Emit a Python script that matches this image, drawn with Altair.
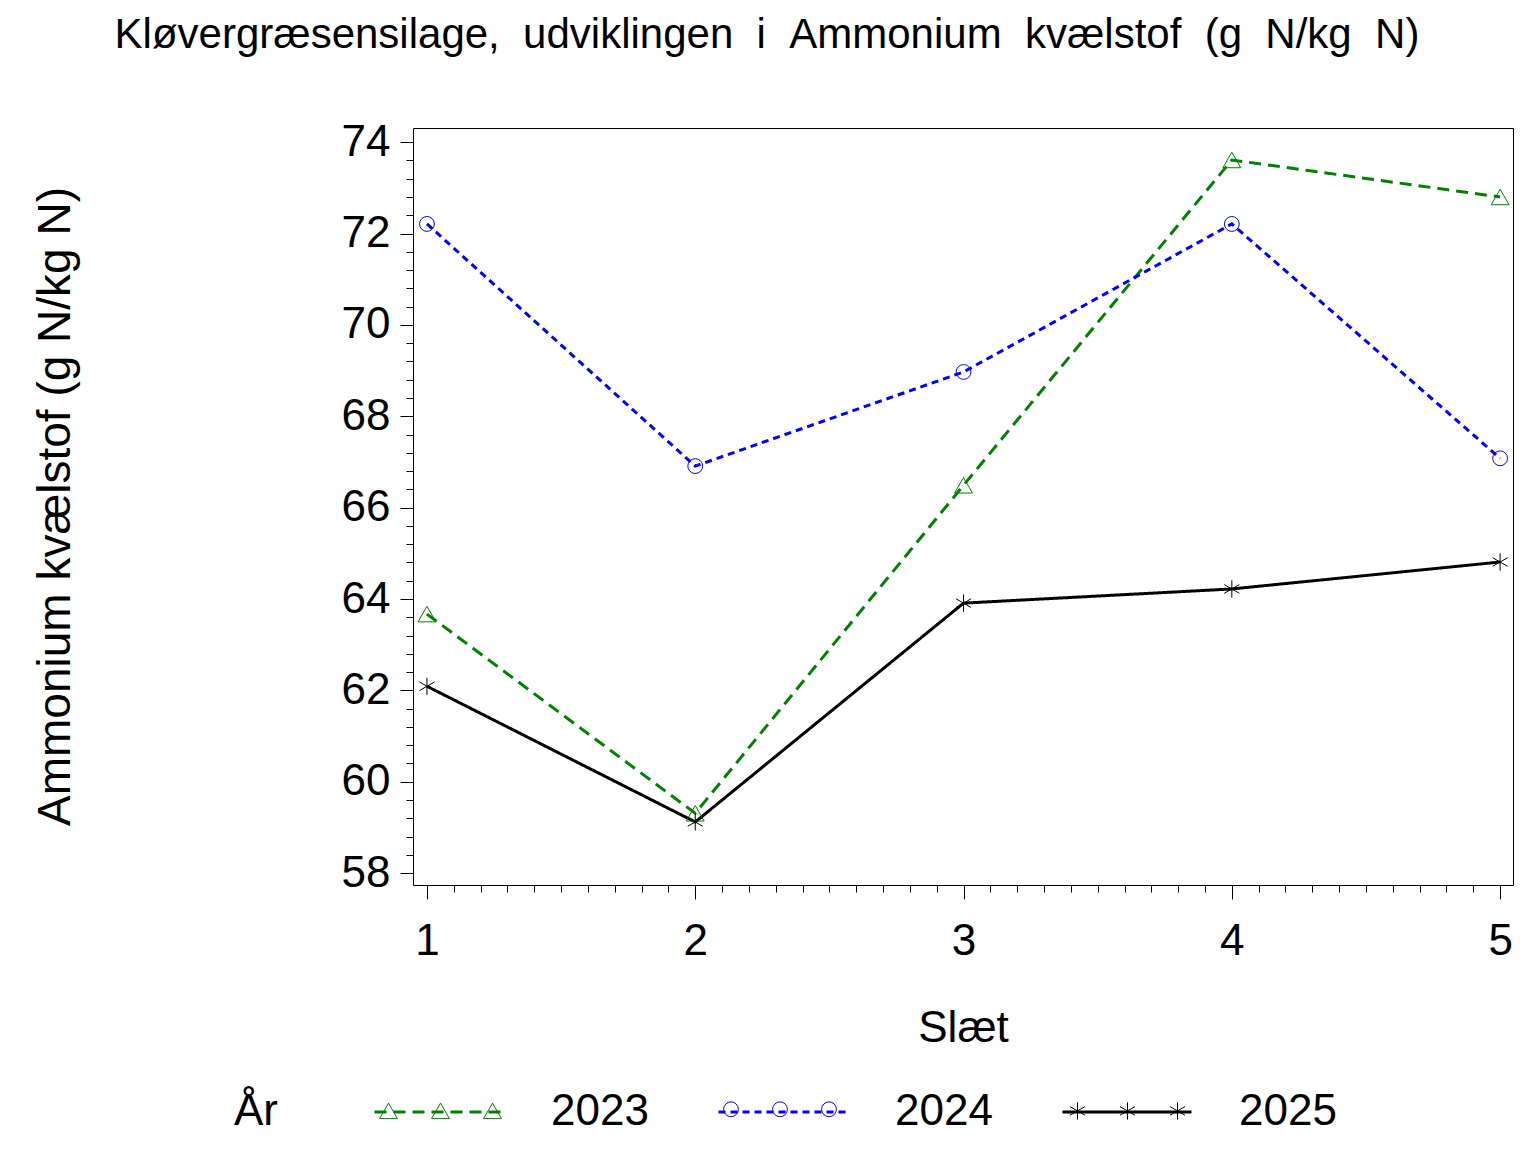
import altair as alt
import pandas as pd

slaet = [1, 2, 3, 4, 5]
years = ["2023", "2024", "2025"]
v2023 = [63.67, 59.31, 66.49, 73.61, 72.80]
v2024 = [72.21, 66.91, 68.97, 72.21, 67.08]
v2025 = [62.09, 59.12, 63.91, 64.22, 64.81]
y_major = [58, 60, 62, 64, 66, 68, 70, 72, 74]
y_minor = [round(58 + 0.4 * i, 1) for i in range(41)]
x_major = [1, 2, 3, 4, 5]
x_minor = [round(1 + 0.1 * i, 1) for i in range(41)]

rows = []
for yr, vals in zip(years, [v2023, v2024, v2025]):
    for s, v in zip(slaet, vals):
        rows.append({"Slaet": s, "Aar": yr, "Value": v})
df = pd.DataFrame(rows)

FONT = "Liberation Sans"
colors = ["#008000", "#0000FF", "#000000"]
dashes = [[12, 7], [7, 5], [1, 0]]
asterisk = "M0,-1L0,1M-0.87,-0.5L0.87,0.5M-0.87,0.5L0.87,-0.5"
shapes = ["triangle-up", "circle", asterisk]
sizes = [320, 220, 300]
marker_x0 = [-34, 310, 655]  # legend marker rows, relative to plot left

xs = alt.Scale(domain=[0.948, 5.048], nice=False, zero=False)
ys = alt.Scale(domain=[57.74, 74.31], nice=False, zero=False)

leg = alt.Legend(
    title="År", orient="none", legendX=-179, legendY=918, direction="horizontal",
    columns=3, titleOrient="left", titleFontSize=44, titleFont=FONT,
    titleFontWeight="normal", titlePadding=95, titleBaseline="top", titleAnchor="middle",
    labelFontSize=44, labelFont=FONT, labelOffset=46, columnPadding=63,
    symbolType="stroke", symbolSize=16641, symbolStrokeWidth=3,
    labelColor="black", titleColor="black",
)

base = alt.Chart(df)

lines = base.mark_line(strokeWidth=3).encode(
    x=alt.X("Slaet:Q", scale=xs, axis=alt.Axis(
        values=x_major, title="Slæt", tickSize=14, labelFontSize=44, labelFont=FONT,
        labelPadding=20, domain=False, grid=False, titleFontSize=44, titleFont=FONT,
        titleFontWeight="normal", titleX=550, titleY=143, titleBaseline="middle",
        tickColor="black", labelColor="black", titleColor="black", labelFlush=False)),
    y=alt.Y("Value:Q", scale=ys, axis=alt.Axis(
        values=y_major, title="Ammonium kvælstof (g N/kg N)", tickSize=13,
        labelFontSize=44, labelFont=FONT, labelPadding=10, domain=False, grid=False,
        titleFontSize=46, titleFont=FONT, titleFontWeight="normal", titleAngle=-90,
        titleX=-358, titleY=378, titleAlign="center", titleBaseline="middle",
        tickColor="black", labelColor="black", titleColor="black", labelFlush=False)),
    color=alt.Color("Aar:N", scale=alt.Scale(domain=years, range=colors), legend=leg),
    strokeDash=alt.StrokeDash("Aar:N", scale=alt.Scale(domain=years, range=dashes), legend=leg),
    detail="Aar:N",
)

point_layers = []
for i, (yr, col, shp, sz, mx) in enumerate(zip(years, colors, shapes, sizes, marker_x0)):
    if i == 0:
        xa = alt.Axis(values=x_minor, orient="bottom", tickSize=7, labels=False, title=None,
                      domain=False, grid=False, tickColor="black")
        ya = alt.Axis(values=y_minor, orient="left", tickSize=7, labels=False, title=None,
                      domain=False, grid=False, tickColor="black")
    else:
        xa = None
        ya = None
    mleg = alt.Legend(
        title=None, orient="none", legendX=mx, legendY=973, direction="horizontal",
        columns=3, values=[yr, yr, yr], labelExpr="''", labelOffset=0, labelFontSize=1,
        columnPadding=29, symbolSize=sz, symbolStrokeWidth=1, symbolStrokeColor=col,
        symbolFillColor="transparent", symbolOpacity=1,
    )
    p = base.transform_filter(alt.datum.Aar == yr).mark_point(
        filled=False, strokeWidth=1, size=sz, opacity=1, color=col
    ).encode(
        x=alt.X("Slaet:Q", scale=xs, axis=xa),
        y=alt.Y("Value:Q", scale=ys, axis=ya),
        shape=alt.Shape("Aar:N", scale=alt.Scale(domain=[yr], range=[shp]), legend=mleg),
    )
    point_layers.append(p)

chart = alt.layer(lines, *point_layers).resolve_axis(
    x="independent", y="independent"
).resolve_scale(shape="independent").properties(
    width=1100, height=757,
    background="white",
    autosize=alt.AutoSizeParams(type="none"),
    padding={"left": 405, "top": 120, "right": 15, "bottom": 259},
    title=alt.Title("Kløvergræsensilage, \u00a0udviklingen \u00a0i \u00a0Ammonium \u00a0kvælstof \u00a0(g \u00a0N/kg \u00a0N)",
                    fontSize=42, font=FONT, fontWeight="normal", anchor="middle",
                    frame="group", dx=-196, offset=30, baseline="alphabetic", color="black"),
).configure_view(stroke="black", strokeWidth=1)

chart.save("out.html", embed_options={"renderer": "svg", "actions": False})
